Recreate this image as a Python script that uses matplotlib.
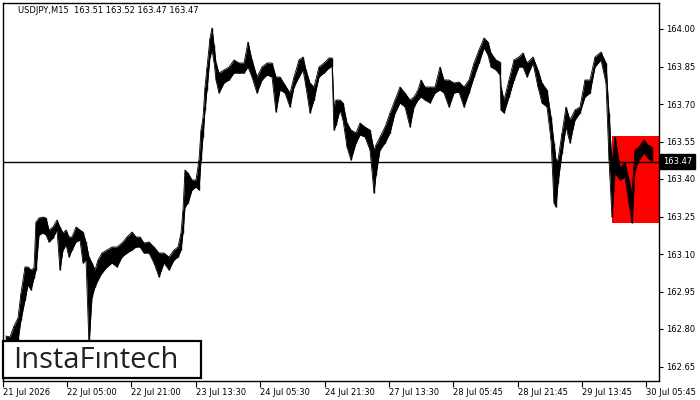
import numpy as np
import matplotlib
matplotlib.use("Agg")
import matplotlib.pyplot as plt
from matplotlib.patches import Rectangle

# USDJPY M15 - high / low per block of bars
bar = [6, 10, 14, 18, 21, 25, 28, 31, 34, 36, 39, 43, 46, 49, 53, 57, 60, 63, 66, 69,
       72, 76, 80, 83, 86, 89, 92, 95, 98, 102, 107, 112, 117, 122, 127, 132,
       136, 140, 144, 149, 154, 159, 164, 169, 174, 178, 181, 183, 185, 188, 192, 196,
       199, 201, 203, 205, 207, 210, 212, 214, 216, 219, 224, 229, 234, 239, 244, 248,
       252, 257, 262,
       267, 272, 276, 280, 285, 290, 294, 299, 303, 306, 310, 314, 319, 324, 329, 332,
       334, 336, 340, 343, 347, 351, 356, 360, 365, 370, 374, 376, 380, 385, 390,
       395, 400, 405, 410, 414, 418, 421, 425, 430, 435, 440, 444, 449, 454, 459, 464,
       469, 474, 479, 484, 488, 491, 496, 500, 501, 504, 509, 514, 519,
       523, 527, 533, 538, 542, 547, 551, 554, 556, 558, 562, 566, 570, 575, 580, 585,
       590, 595, 601, 606, 609, 612, 615, 620, 625, 629, 632, 635, 639, 644, 648, 652]

high = [162.772, 162.768, 162.812, 162.844, 162.944, 163.048, 163.048, 163.036, 163.044, 163.228,
        163.244, 163.248, 163.244, 163.196, 163.208, 163.236, 163.208, 163.184, 163.196, 163.168,
        163.168, 163.208, 163.196, 163.188, 163.148, 163.088, 163.064, 163.036, 163.076, 163.104,
        163.116, 163.128, 163.128, 163.144, 163.168, 163.188,
        163.168, 163.168, 163.144, 163.148, 163.128, 163.104, 163.104, 163.088, 163.116, 163.128,
        163.184, 163.276, 163.436, 163.424, 163.396, 163.396, 163.476, 163.596, 163.644, 163.768,
        163.848, 163.964, 164.004, 163.936, 163.864, 163.824, 163.836, 163.848, 163.876, 163.864,
        163.864, 163.948, 163.876, 163.808, 163.848,
        163.864, 163.864, 163.808, 163.808, 163.776, 163.744, 163.808, 163.876, 163.888, 163.836,
        163.784, 163.768, 163.848, 163.864, 163.884, 163.884,
        163.688, 163.716, 163.716, 163.704, 163.624, 163.596, 163.584, 163.624, 163.608, 163.596,
        163.516, 163.536, 163.568, 163.608, 163.664,
        163.716, 163.768, 163.744, 163.716, 163.728, 163.756, 163.796, 163.768, 163.768, 163.768,
        163.848, 163.796, 163.796, 163.784, 163.788, 163.768, 163.796, 163.864, 163.916, 163.964,
        163.948, 163.904, 163.876, 163.868, 163.768, 163.716, 163.796, 163.876, 163.888,
        163.904, 163.864, 163.888, 163.836, 163.784, 163.756, 163.648, 163.544, 163.476, 163.476,
        163.584, 163.688, 163.636, 163.676, 163.688, 163.796, 163.796, 163.888, 163.908, 163.864,
        163.664, 163.464, 163.568, 163.448, 163.464, 163.396, 163.344, 163.516, 163.528, 163.556,
        163.536, 163.528]

low = [162.736, 162.752, 162.756, 162.756, 162.836, 162.916, 162.976, 162.956, 163.004, 163.036,
       163.176, 163.184, 163.176, 163.148, 163.164, 163.196, 163.036, 163.116, 163.136, 163.088,
       163.116, 163.148, 163.156, 163.064, 163.076, 162.736, 162.928, 162.968, 162.996, 163.024,
       163.048, 163.064, 163.048, 163.088, 163.104, 163.116,
       163.128, 163.128, 163.104, 163.104, 163.064, 163.008, 163.064, 163.036, 163.076, 163.088,
       163.116, 163.184, 163.288, 163.304, 163.356, 163.368, 163.356, 163.476, 163.568, 163.676,
       163.756, 163.888, 163.916, 163.868, 163.796, 163.744, 163.784, 163.796, 163.824, 163.824,
       163.824, 163.848, 163.808, 163.744, 163.796,
       163.816, 163.808, 163.668, 163.756, 163.744, 163.688, 163.768, 163.808, 163.836, 163.768,
       163.664, 163.716, 163.808, 163.824, 163.844, 163.852,
       163.596, 163.616, 163.676, 163.636, 163.528, 163.476, 163.544, 163.576, 163.568, 163.516,
       163.344, 163.416, 163.516, 163.544, 163.584,
       163.664, 163.704, 163.688, 163.608, 163.688, 163.716, 163.728, 163.716, 163.704, 163.744,
       163.756, 163.744, 163.688, 163.744, 163.748, 163.688, 163.744, 163.808, 163.864, 163.924,
       163.896, 163.848, 163.836, 163.816, 163.676, 163.664, 163.728, 163.796, 163.848,
       163.848, 163.808, 163.864, 163.768, 163.704, 163.688, 163.556, 163.304, 163.288, 163.384,
       163.504, 163.608, 163.544, 163.636, 163.664, 163.728, 163.744, 163.848, 163.876, 163.784,
       163.476, 163.248, 163.424, 163.396, 163.408, 163.304, 163.224, 163.436, 163.476, 163.504,
       163.484, 163.468]

last_price = 163.47
title = "USDJPY,M15  163.51 163.52 163.47 163.47"

# pattern zone (red box)
zone_start, zone_end = 612, 659
zone_top, zone_bottom = 163.572, 163.225

y_ticks = [164.00, 163.85, 163.70, 163.55, 163.40, 163.25, 163.10, 162.95, 162.80, 162.65]
x_tick_bars = [3, 67, 131, 196, 260, 325, 389, 453, 518, 582, 646]
x_tick_labels = ["21 Jul 2026", "22 Jul 05:00", "22 Jul 21:00", "23 Jul 13:30",
                 "24 Jul 05:30", "24 Jul 21:30", "27 Jul 13:30", "28 Jul 05:45",
                 "28 Jul 21:45", "29 Jul 13:45", "30 Jul 05:45"]

W, H = 700, 400
fig = plt.figure(figsize=(7, 4), dpi=100)
ax = fig.add_axes([2.7 / W, 1 - 381 / H, (659 - 2.7) / W, (381 - 3) / H])
ax.set_xlim(2.7, 659)
ax.set_ylim(162.592, 164.104)

ax.add_patch(Rectangle((zone_start, zone_bottom), zone_end - zone_start,
                       zone_top - zone_bottom, fc="#ff0000", ec="none", zorder=1))

ax.fill_between(bar, low, high, color="black", lw=0, zorder=3)
ax.vlines(bar, low, high, color="black", lw=1.0, zorder=3)
ax.plot(bar, high, color="black", lw=0.6, zorder=3)
ax.plot(bar, low, color="black", lw=0.6, zorder=3)

ax.axhline(last_price, color="black", lw=1.0, zorder=2)

for s in ax.spines.values():
    s.set_linewidth(1.0)
    s.set_color("black")

ax.yaxis.tick_right()
ax.set_yticks(y_ticks)
ax.set_yticklabels([f"{v:.2f}" for v in y_ticks])
ax.tick_params(axis="y", length=3, width=0.8, labelsize=6, pad=2)
ax.set_xticks(x_tick_bars)
ax.set_xticklabels(x_tick_labels)
ax.tick_params(axis="x", length=4, width=0.8, labelsize=6, pad=1)
for lbl in ax.get_xticklabels():
    lbl.set_horizontalalignment("left")

ax.text(1.006, last_price, f"{last_price:.2f}", transform=ax.get_yaxis_transform(),
        ha="left", va="center", fontsize=6, color="white", clip_on=False,
        bbox=dict(boxstyle="square,pad=0.35", fc="black", ec="black"))

ax.text(0.0233, 0.980, title, transform=ax.transAxes, ha="left", va="center",
        fontsize=6, color="black")

# logo
fig.add_artist(Rectangle((3 / W, 1 - 378 / H), 198 / W, 37 / H, transform=fig.transFigure,
                         fc="white", ec="black", lw=1.6, zorder=10))
fig.text(96 / W, 1 - 360 / H, "InstaF\u0131ntech", ha="center", va="center",
         fontsize=21, family="Open Sans", color="#222222", zorder=11)

fig.savefig("out.png", dpi=100)
